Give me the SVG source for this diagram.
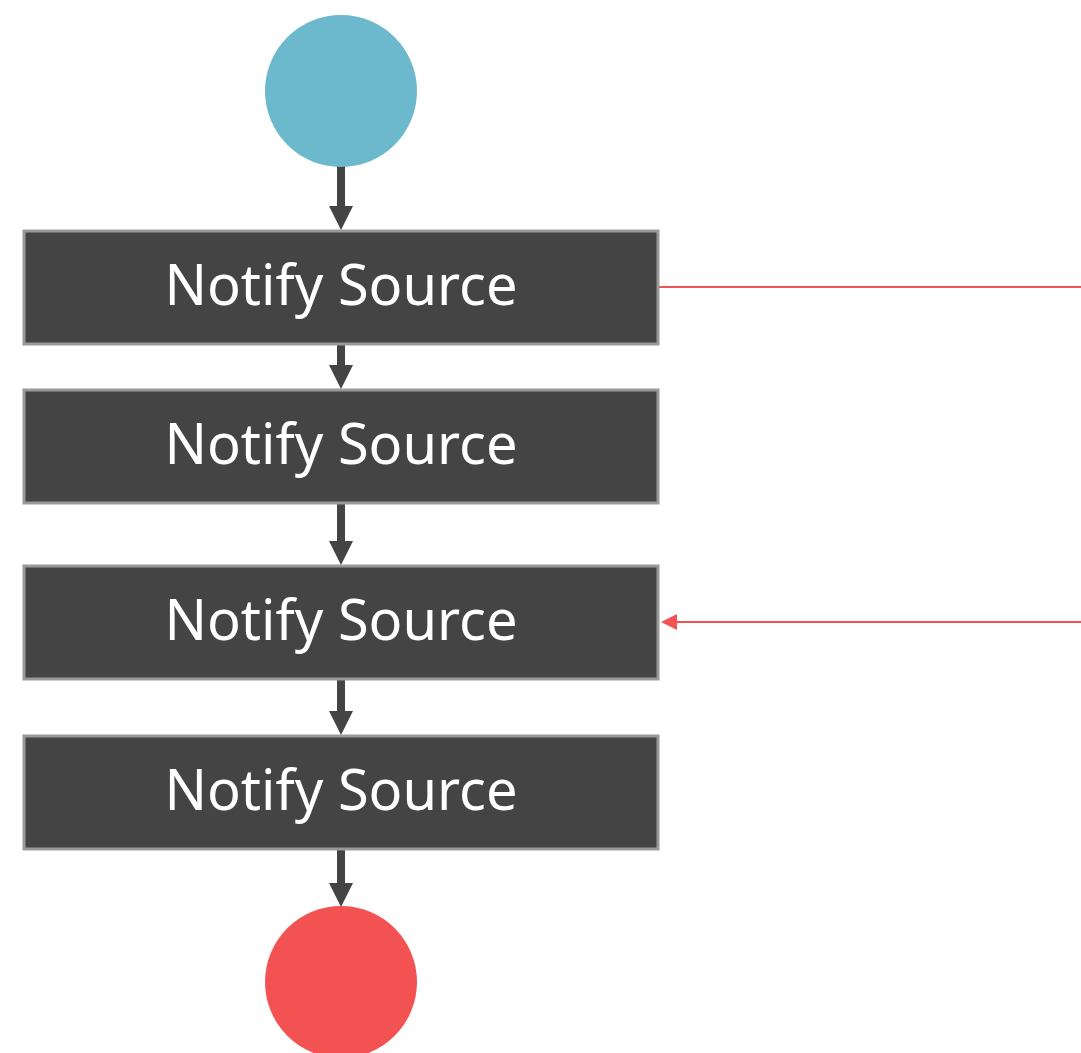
<svg xmlns="http://www.w3.org/2000/svg" width="1081" height="1053" viewBox="0 0 1081 1053">
<defs>
<style>
.box{fill:#444444;stroke:#999999;stroke-width:3}
.lbl{font-family:"Noto Sans","Open Sans",sans-serif;font-size:56px;fill:#ffffff;text-anchor:middle}
.flow{stroke:#444444;stroke-width:8;fill:none}
.red{stroke:#f35252;stroke-width:2;fill:none}
</style>
<marker id="ah" markerWidth="24" markerHeight="24" viewBox="0 0 24 24" refX="0" refY="12" orient="auto" markerUnits="userSpaceOnUse">
<path d="M0,0 L24,12 L0,24 Z" fill="#444444"/>
</marker>
<marker id="rh" markerWidth="16" markerHeight="16" viewBox="0 0 16 16" refX="0" refY="8" orient="auto" markerUnits="userSpaceOnUse">
<path d="M0,0 L16,8 L0,16 Z" fill="#f35252"/>
</marker>
</defs>
<g id="connectors">
<line class="flow" x1="341" y1="166" x2="341" y2="206" marker-end="url(#ah)"/>
<line class="flow" x1="341" y1="345" x2="341" y2="365" marker-end="url(#ah)"/>
<line class="flow" x1="341" y1="504" x2="341" y2="541" marker-end="url(#ah)"/>
<line class="flow" x1="341" y1="680" x2="341" y2="711" marker-end="url(#ah)"/>
<line class="flow" x1="341" y1="850" x2="341" y2="883" marker-end="url(#ah)"/>
<line class="red" x1="659" y1="287" x2="1081" y2="287"/>
<line class="red" x1="1081" y1="622" x2="677" y2="622" marker-end="url(#rh)"/>
</g>
<g id="start"><circle cx="341" cy="91" r="76" fill="#6cb8cd"/></g>
<g id="n1"><rect class="box" x="24" y="231" width="634" height="113"/><text class="lbl" x="341" y="305">Notify Source</text></g>
<g id="n2"><rect class="box" x="24" y="390" width="634" height="113"/><text class="lbl" x="341" y="464">Notify Source</text></g>
<g id="n3"><rect class="box" x="24" y="566" width="634" height="113"/><text class="lbl" x="341" y="640">Notify Source</text></g>
<g id="n4"><rect class="box" x="24" y="736" width="634" height="113"/><text class="lbl" x="341" y="810">Notify Source</text></g>
<g id="end"><circle cx="341" cy="982" r="76" fill="#f35252"/></g>
</svg>
